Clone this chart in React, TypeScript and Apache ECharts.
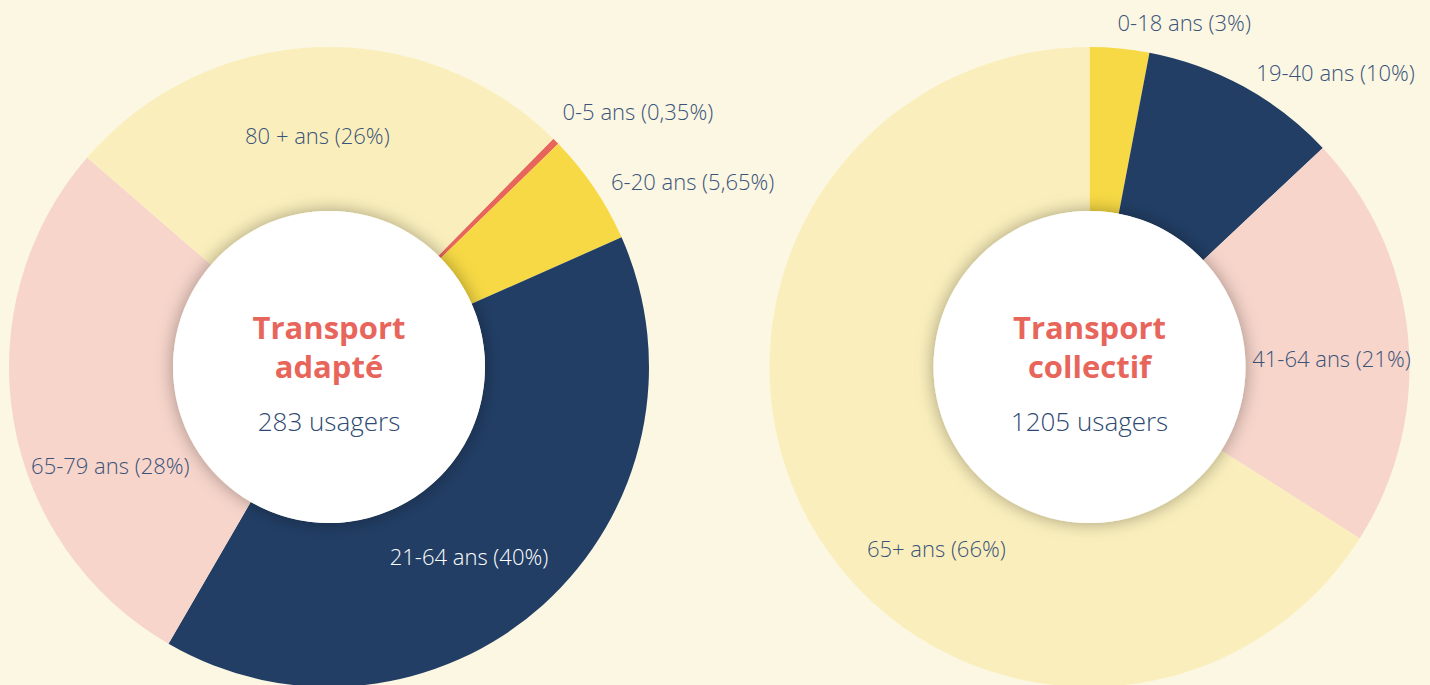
import React, { useEffect, useRef } from "react";
import * as echarts from "echarts";

const adapteCategories = ["0-5 ans", "6-20 ans", "21-64 ans", "65-79 ans", "80 + ans"];
const adapteValues = [0.35, 5.65, 40, 28, 26];
const adapteLabels = ["0,35%", "5,65%", "40%", "28%", "26%"];
const collectifCategories = ["0-18 ans", "19-40 ans", "41-64 ans", "65+ ans"];
const collectifValues = [3, 10, 21, 66];
const collectifLabels = ["3%", "10%", "21%", "66%"];
const adapteUsers = 283;
const collectifUsers = 1205;

const BG = "#FBF7E3";
const NAVY = "#223E65";
const YELLOW = "#F6D944";
const PINK = "#F7D5CB";
const LIGHTY = "#FAEFBC";
const RED = "#E8655B";
const TXT = "#3A5379";
const FONT = "'Open Sans', sans-serif";

const adapteColors = [RED, YELLOW, NAVY, PINK, LIGHTY];
const adapteOffsets: [number, number][] = [[138, -86], [164, -51], [-21, 10], [19, 58], [-2, 9]];
const collectifColors = [YELLOW, NAVY, PINK, LIGHTY];
const collectifOffsets: [number, number][] = [[72, -105], [130, -84], [2, 14], [58, 65]];

export default function App() {
  const ref = useRef<HTMLDivElement>(null);
  useEffect(() => {
    document.body.style.margin = "0";
    if (!ref.current) return;
    const chart = echarts.init(ref.current, null, { renderer: "svg" });
    const mk = (cats: string[], vals: number[], labs: string[], colors: string[], offs: [number, number][], whiteIdx: number) =>
      cats.map((c, i) => ({
        name: c,
        value: vals[i],
        itemStyle: { color: colors[i] },
        label: {
          show: true,
          position: "inside",
          formatter: `${c} (${labs[i]})`,
          offset: offs[i],
          color: i === whiteIdx ? "#FFFFFF" : TXT,
          fontSize: 22,
          fontWeight: 300,
          fontFamily: FONT,
        },
      }));
    const cx1 = 329, cx2 = 1089.5, cy = 367, rIn = 156, rOut = 320;
    const centerTexts = (cx: number, t1: string, t2: string, users: number) => [
      {
        type: "circle", z: 100,
        shape: { cx, cy, r: rIn },
        style: { fill: "#FFFFFF", shadowBlur: 18, shadowColor: "rgba(0,0,0,0.35)" },
      },
      {
        type: "text", z: 101, x: cx, y: 327,
        style: { text: t1, fill: RED, fontSize: 31, fontWeight: "bold", fontFamily: FONT, align: "center", verticalAlign: "middle" },
      },
      {
        type: "text", z: 101, x: cx, y: 366,
        style: { text: t2, fill: RED, fontSize: 31, fontWeight: "bold", fontFamily: FONT, align: "center", verticalAlign: "middle" },
      },
      {
        type: "text", z: 101, x: cx, y: 421,
        style: { text: `${users} usagers`, fill: "#2E4A73", fontSize: 26, fontWeight: 300, fontFamily: FONT, align: "center", verticalAlign: "middle" },
      },
    ];
    chart.setOption({
      animation: false,
      backgroundColor: BG,
      series: [
        {
          type: "pie",
          center: [cx1, cy],
          radius: [rIn, rOut],
          startAngle: 45.5,
          clockwise: true,
          avoidLabelOverlap: false,
          labelLine: { show: false },
          emphasis: { disabled: true },
          data: mk(adapteCategories, adapteValues, adapteLabels, adapteColors, adapteOffsets, 2),
        },
        {
          type: "pie",
          center: [cx2, cy],
          radius: [rIn, rOut],
          startAngle: 90,
          clockwise: true,
          avoidLabelOverlap: false,
          labelLine: { show: false },
          emphasis: { disabled: true },
          data: mk(collectifCategories, collectifValues, collectifLabels, collectifColors, collectifOffsets, -1),
        },
      ],
      graphic: [
        ...centerTexts(cx1, "Transport", "adapté", adapteUsers),
        ...centerTexts(cx2, "Transport", "collectif", collectifUsers),
      ],
    });
    return () => chart.dispose();
  }, []);
  return <div ref={ref} style={{ width: 1430, height: 685 }} />;
}
